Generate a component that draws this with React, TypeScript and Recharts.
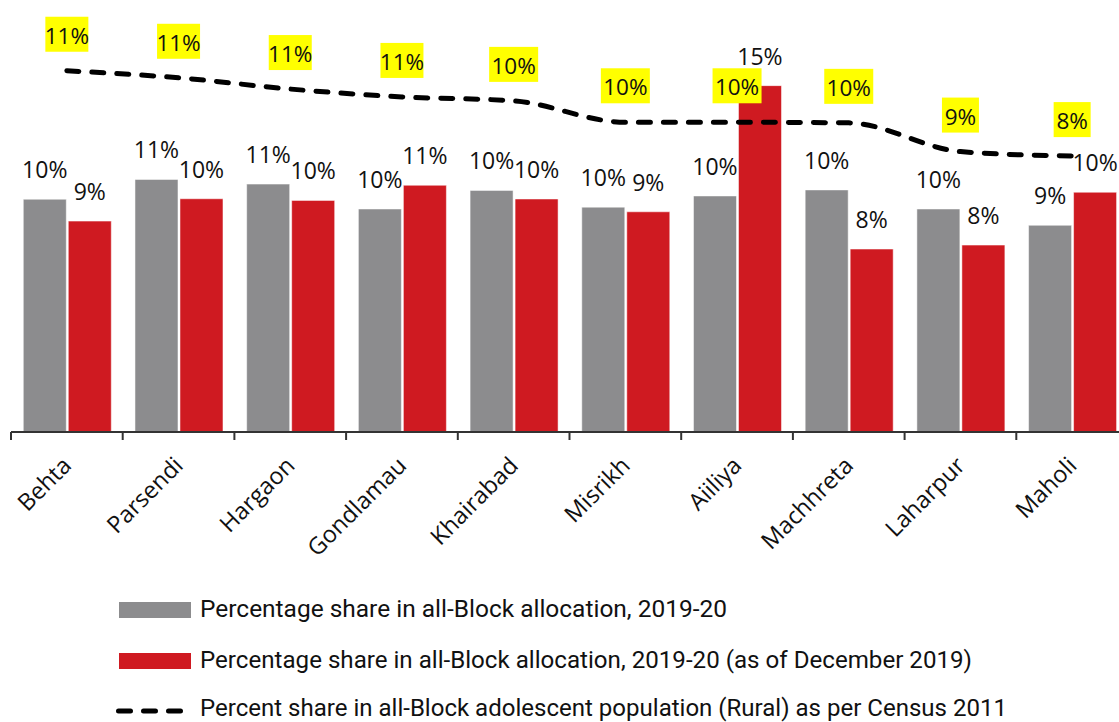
import React from 'react';
import { ComposedChart, Bar, Line, XAxis, YAxis, LabelList, Legend } from 'recharts';

const categories = ['Behta', 'Parsendi', 'Hargaon', 'Gondlamau', 'Khairabad', 'Misrikh', 'Aiiliya', 'Machhreta', 'Laharpur', 'Maholi'];
const allocationShare = [10.0, 10.85, 10.65, 9.58, 10.38, 9.66, 10.14, 10.4, 9.58, 8.88];
const decemberShare = [9.06, 10.02, 9.95, 10.6, 10.01, 9.46, 14.88, 7.86, 8.03, 10.3];
const populationShare = [11.45, 11.2, 10.8, 10.52, 10.38, 9.62, 9.62, 9.6, 8.58, 8.42];

const seriesNames = [
  'Percentage share in all-Block allocation, 2019-20',
  'Percentage share in all-Block allocation, 2019-20 (as of December 2019)',
  'Percent share in all-Block adolescent population (Rural) as per Census 2011',
];

const data = categories.map((name, i) => ({
  name,
  allocation: allocationShare[i],
  december: decemberShare[i],
  population: populationShare[i],
}));

const CHART_W = 1140;
const CHART_H = 722;
const M_LEFT = 11;
const M_RIGHT = 12;
const BAND = (CHART_W - M_LEFT - M_RIGHT) / categories.length;

const GRAY = '#8c8c8e';
const RED = '#cf1a21';
const LABEL_FONT = '"Open Sans", "Noto Sans", sans-serif';
const LEGEND_FONT = '"Roboto", "Noto Sans", sans-serif';

const pct = (v: any) => `${Math.round(Number(v))}%`;

const XTick = (props: any) => {
  const { x, y, payload } = props;
  const tx = x + 6;
  const ty = y + 35;
  return (
    <g>
      <line x1={x - BAND / 2} x2={x - BAND / 2} y1={y} y2={y + 8} stroke="#333" strokeWidth={2} />
      <text
        x={tx}
        y={ty}
        transform={`rotate(-45, ${tx}, ${ty})`}
        textAnchor="end"
        fontSize={23.5}
        fontFamily={LABEL_FONT}
        fill="#111"
      >
        {payload.value}
      </text>
    </g>
  );
};

const charW = (c: string) => (c === '1' ? 9.5 : c === '%' ? 24 : c === '0' ? 15.5 : 13);

const LineLabel = (props: any) => {
  const { x, y, value } = props;
  const text = pct(value);
  const w = text.split('').reduce((s: number, c: string) => s + charW(c), 0);
  return (
    <g>
      <rect x={x - w / 2} y={y - 54} width={w} height={35} fill="#ffff00" />
      <text x={x} y={y - 27} textAnchor="middle" fontSize={22.5} fontFamily={LABEL_FONT} fill="#111">
        {text}
      </text>
    </g>
  );
};

const legendWidths = [527, 772, 807];

const renderLegend = () => (
  <svg width={1119} height={132} style={{ display: 'block' }}>
    <rect x={119} y={12} width={72} height={16} fill={GRAY} />
    <text x={200} y={27} fontSize={24} fontFamily={LEGEND_FONT} fill="#111" textLength={legendWidths[0]} lengthAdjust="spacingAndGlyphs">{seriesNames[0]}</text>
    <rect x={119} y={63} width={72} height={16} fill={RED} />
    <text x={200} y={77.5} fontSize={24} fontFamily={LEGEND_FONT} fill="#111" textLength={legendWidths[1]} lengthAdjust="spacingAndGlyphs">{seriesNames[1]}</text>
    <line x1={118.5} x2={183.5} y1={121} y2={121} stroke="#000" strokeWidth={5} strokeDasharray="12 13" strokeLinecap="round" />
    <text x={200} y={126} fontSize={23} fontFamily={LEGEND_FONT} fill="#111" textLength={legendWidths[2]} lengthAdjust="spacingAndGlyphs">{seriesNames[2]}</text>
  </svg>
);

export default function App() {
  return (
    <div style={{ position: 'absolute', left: 0, top: 0, width: 1119, height: 722, overflow: 'hidden', background: '#fff' }}>
      <ComposedChart
        width={CHART_W}
        height={CHART_H}
        data={data}
        margin={{ top: 13, right: M_RIGHT, bottom: 0, left: M_LEFT }}
        barCategoryGap="11%"
        barGap={2}
      >
        <XAxis
          dataKey="name"
          height={290}
          interval={0}
          tickSize={0}
          tickMargin={0}
          tickLine={false}
          axisLine={{ stroke: '#333', strokeWidth: 2 }}
          tick={<XTick />}
        />
        <YAxis yAxisId="left" hide domain={[0, 18]} />
        <YAxis yAxisId="right" hide domain={[-1.376, 13.5]} allowDataOverflow />
        <Legend
          verticalAlign="middle"
          align="center"
          layout="horizontal"
          wrapperStyle={{ position: 'absolute', left: 0, top: 590, width: 1119, height: 132 }}
          content={renderLegend}
        />
        <Bar yAxisId="left" dataKey="allocation" name={seriesNames[0]} fill={GRAY} stroke="#ffffff" strokeOpacity={0.5} strokeWidth={1} isAnimationActive={false}>
          <LabelList dataKey="allocation" position="top" offset={21} formatter={pct} fontSize={23} fontFamily={LABEL_FONT} fill="#111" />
        </Bar>
        <Bar yAxisId="left" dataKey="december" name={seriesNames[1]} fill={RED} stroke="#ffffff" strokeOpacity={0.5} strokeWidth={1} isAnimationActive={false}>
          <LabelList dataKey="december" position="top" offset={21} formatter={pct} fontSize={23} fontFamily={LABEL_FONT} fill="#111" />
        </Bar>
        <Line
          yAxisId="right"
          type="monotone"
          dataKey="population"
          name={seriesNames[2]}
          stroke="#000"
          strokeWidth={5}
          strokeDasharray="12 13"
          strokeLinecap="round"
          dot={false}
          activeDot={false}
          isAnimationActive={false}
        >
          <LabelList dataKey="population" content={<LineLabel />} />
        </Line>
      </ComposedChart>
    </div>
  );
}
